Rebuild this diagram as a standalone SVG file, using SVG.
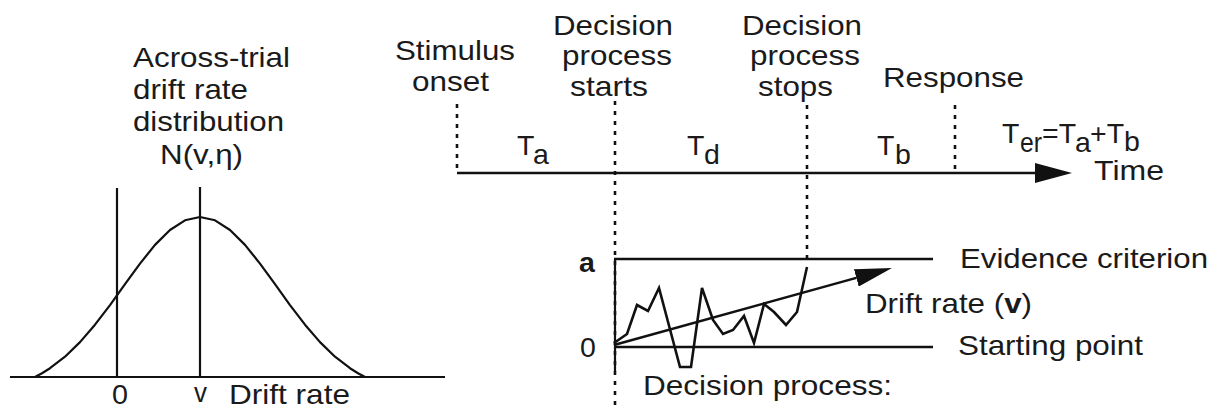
<svg xmlns="http://www.w3.org/2000/svg" width="1227" height="411" viewBox="0 0 1227 411">
<style>
text{font-family:"Liberation Sans",Arial,Helvetica,sans-serif;font-size:28.5px;fill:#1a1a1a}
.b{font-weight:bold}
.ln{stroke:#111;stroke-width:2.5;fill:none}
.thin{stroke:#111;stroke-width:2.2;fill:none}
.walk{stroke:#111;stroke-width:2.6;fill:none;stroke-linejoin:miter}
.dot{stroke:#111;stroke-width:2.6;stroke-dasharray:4 6;fill:none}
</style>
<defs>
<marker id="ah" viewBox="0 0 37 20" refX="0" refY="10" markerWidth="37" markerHeight="20" markerUnits="userSpaceOnUse" orient="auto">
<path d="M0,0 L37,10 L0,20 z" fill="#111"/>
</marker>
<marker id="ah2" viewBox="0 0 37 18" refX="0" refY="9" markerWidth="37" markerHeight="18" markerUnits="userSpaceOnUse" orient="auto">
<path d="M0,0 L37,9 L0,18 z" fill="#111"/>
</marker>
</defs>

<g id="distribution">
<line class="thin" x1="10" y1="377" x2="445" y2="377"/>
<line class="thin" x1="117" y1="188" x2="117" y2="377"/>
<line class="thin" x1="200" y1="187" x2="200" y2="377"/>
<polyline class="thin" stroke-linejoin="round" points="35,377 42,373.2 50,368.2 65,356.7 80,342.1 95,324.7 110,305.1 125,284.2 140,263.6 155,244.9 170,230 185,220.3 200,217 215,220.3 230,230 245,244.9 260,263.6 275,284.2 290,305.1 305,324.7 320,342.1 335,356.7 350,368.2 358,373.2 365,377"/>
<text x="133" y="67" textLength="157" lengthAdjust="spacingAndGlyphs">Across-trial</text>
<text x="133" y="99" textLength="115" lengthAdjust="spacingAndGlyphs">drift rate</text>
<text x="133" y="131" textLength="151" lengthAdjust="spacingAndGlyphs">distribution</text>
<text x="160" y="164" textLength="83" lengthAdjust="spacingAndGlyphs">N(v,η)</text>
<text x="112" y="404" textLength="16" lengthAdjust="spacingAndGlyphs">0</text>
<text x="194" y="402" textLength="13" lengthAdjust="spacingAndGlyphs">v</text>
<text x="229" y="404" textLength="121" lengthAdjust="spacingAndGlyphs">Drift rate</text>
</g>

<g id="timeline-labels">
<text x="395" y="60" textLength="120" lengthAdjust="spacingAndGlyphs">Stimulus</text>
<text x="412" y="91" textLength="77" lengthAdjust="spacingAndGlyphs">onset</text>
<text x="553" y="35" textLength="120" lengthAdjust="spacingAndGlyphs">Decision</text>
<text x="562" y="65" textLength="110" lengthAdjust="spacingAndGlyphs">process</text>
<text x="570" y="96" textLength="78" lengthAdjust="spacingAndGlyphs">starts</text>
<text x="742" y="35" textLength="120" lengthAdjust="spacingAndGlyphs">Decision</text>
<text x="750" y="65" textLength="110" lengthAdjust="spacingAndGlyphs">process</text>
<text x="758" y="96" textLength="75" lengthAdjust="spacingAndGlyphs">stops</text>
<text x="883" y="87" textLength="141" lengthAdjust="spacingAndGlyphs">Response</text>
<text x="517" y="155">T</text><text x="533" y="164">a</text>
<text x="687" y="155">T</text><text x="704" y="164">d</text>
<text x="877" y="155">T</text><text x="895" y="164">b</text>
<text x="1002" y="143">T</text><text x="1020" y="152" textLength="22" lengthAdjust="spacingAndGlyphs">er</text>
<text x="1042" y="143">=T</text><text x="1075" y="152">a</text>
<text x="1090" y="143">+T</text><text x="1124" y="151">b</text>
<text x="1094" y="180" textLength="70" lengthAdjust="spacingAndGlyphs">Time</text>
</g>

<g id="decision-box">
<line class="ln" x1="614" y1="259" x2="933" y2="259"/>
<line class="ln" x1="614" y1="347" x2="933" y2="347"/>
<line class="thin" x1="615" y1="259" x2="615" y2="372"/>
<polyline class="walk" points="614,343 627,334 637,305 648,311 659,288 680,367 691,367 702,288 713,320 723,334 733,330 744,316 754,343 764,304 774,312 786,325 797,312 807,267"/>
<text class="b" x="579" y="272">a</text>
<text x="580" y="357">0</text>
<text x="960" y="268" textLength="248" lengthAdjust="spacingAndGlyphs">Evidence criterion</text>
<text x="958" y="355" textLength="185" lengthAdjust="spacingAndGlyphs">Starting point</text>
<text x="865" y="313" textLength="167" lengthAdjust="spacingAndGlyphs">Drift rate (<tspan class="b">v</tspan>)</text>
<text x="643" y="395" textLength="249" lengthAdjust="spacingAndGlyphs">Decision process:</text>
</g>

<g id="connectors">
<line class="ln" x1="457" y1="173" x2="1035" y2="173" marker-end="url(#ah)"/>
<line class="dot" x1="457" y1="104" x2="457" y2="173"/>
<line class="dot" x1="615" y1="101" x2="615" y2="411"/>
<line class="dot" x1="807" y1="105" x2="807" y2="262"/>
<line class="dot" x1="955" y1="105" x2="955" y2="173"/>
<line class="ln" x1="614" y1="345" x2="856.3" y2="277.9" marker-end="url(#ah2)"/>
</g>
</svg>
